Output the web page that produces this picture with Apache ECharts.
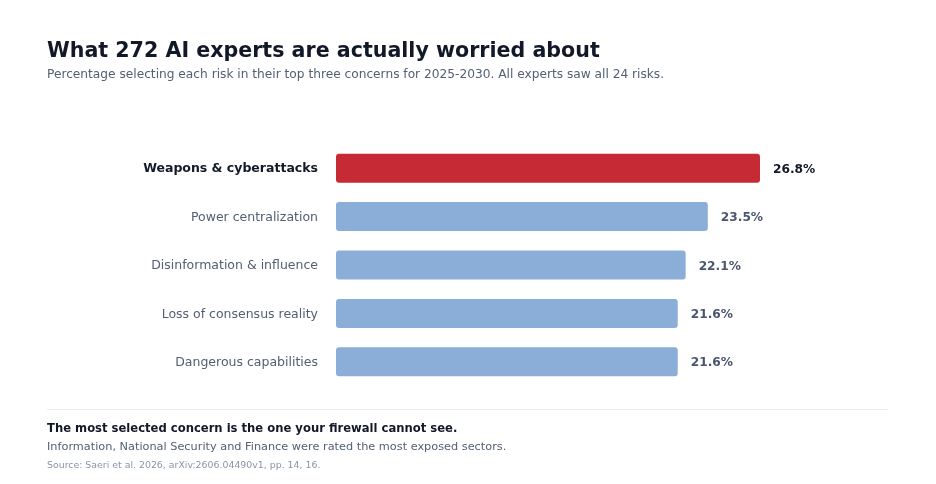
<!DOCTYPE html>
<html><head><meta charset="utf-8">
<script src="https://cdn.jsdelivr.net/npm/echarts@6/dist/echarts.min.js"></script>
<style>html,body{margin:0;padding:0;background:#fff}#c{width:936px;height:484px}</style>
</head><body><div id="c"></div>
<script>
var categories = ["Weapons & cyberattacks","Power centralization","Disinformation & influence","Loss of consensus reality","Dangerous capabilities"];
var values = [26.8, 23.5, 22.1, 21.6, 21.6];
var highlightIndex = 0;

var FONT = "DejaVu Sans";
var chart = echarts.init(document.getElementById('c'), null, {renderer:'canvas'});
chart.setOption({
  backgroundColor:'#ffffff',
  animation:false,
  textStyle:{fontFamily:FONT},
  title:[
    {text:"What 272 AI experts are actually worried about", left:47, top:41, padding:0,
     textStyle:{fontFamily:FONT,fontSize:20.6,fontWeight:'bold',color:'#111827'}},
    {text:"Percentage selecting each risk in their top three concerns for 2025-2030. All experts saw all 24 risks.", left:47, top:69, padding:0,
     textStyle:{fontFamily:FONT,fontSize:12.2,fontWeight:'normal',color:'#526074'}},
    {text:"The most selected concern is the one your firewall cannot see.", left:47, top:423, padding:0,
     textStyle:{fontFamily:FONT,fontSize:11.6,fontWeight:'bold',color:'#111827'}},
    {text:"Information, National Security and Finance were rated the most exposed sectors.", left:47, top:441.5, padding:0,
     textStyle:{fontFamily:FONT,fontSize:11.3,fontWeight:'normal',color:'#526074'}},
    {text:"Source: Saeri et al. 2026, arXiv:2606.04490v1, pp. 14, 16.", left:47, top:461, padding:0,
     textStyle:{fontFamily:FONT,fontSize:9.4,fontWeight:'normal',color:'#8a94a6'}}
  ],
  graphic:[{type:'line',shape:{x1:47,y1:409.5,x2:888,y2:409.5},style:{stroke:'#e8eaee',lineWidth:1}}],
  grid:{left:336, right:176, top:144, bottom:98, containLabel:false},
  xAxis:{type:'value', min:0, max:26.8, show:false},
  yAxis:{type:'category', data:categories, inverse:true,
    axisLine:{show:false}, axisTick:{show:false}, splitLine:{show:false},
    axisLabel:{margin:18, fontFamily:FONT, fontSize:12.5,
      formatter:function(v,i){return i===highlightIndex?'{h|'+v+'}':'{n|'+v+'}';},
      rich:{h:{fontFamily:FONT,fontSize:12.5,fontWeight:'bold',color:'#111827',padding:[2,0,0,0]},
            n:{fontFamily:FONT,fontSize:12.5,color:'#526074',padding:[2,0,0,0]}}}},
  series:[{type:'bar', barWidth:'60%',
    data:values.map(function(v,i){return {value:v,
      itemStyle:{color:i===highlightIndex?'#c62a35':'#8aaed8',borderRadius:3},
      label:{color:i===highlightIndex?'#111827':'#4a5670'}};}),
    label:{show:true, position:'right', distance:13, offset:[0,1.5], fontFamily:FONT, fontSize:12.2, fontWeight:'bold',
      formatter:function(p){return p.value.toFixed(1)+'%';}}
  }]
});
</script></body></html>
